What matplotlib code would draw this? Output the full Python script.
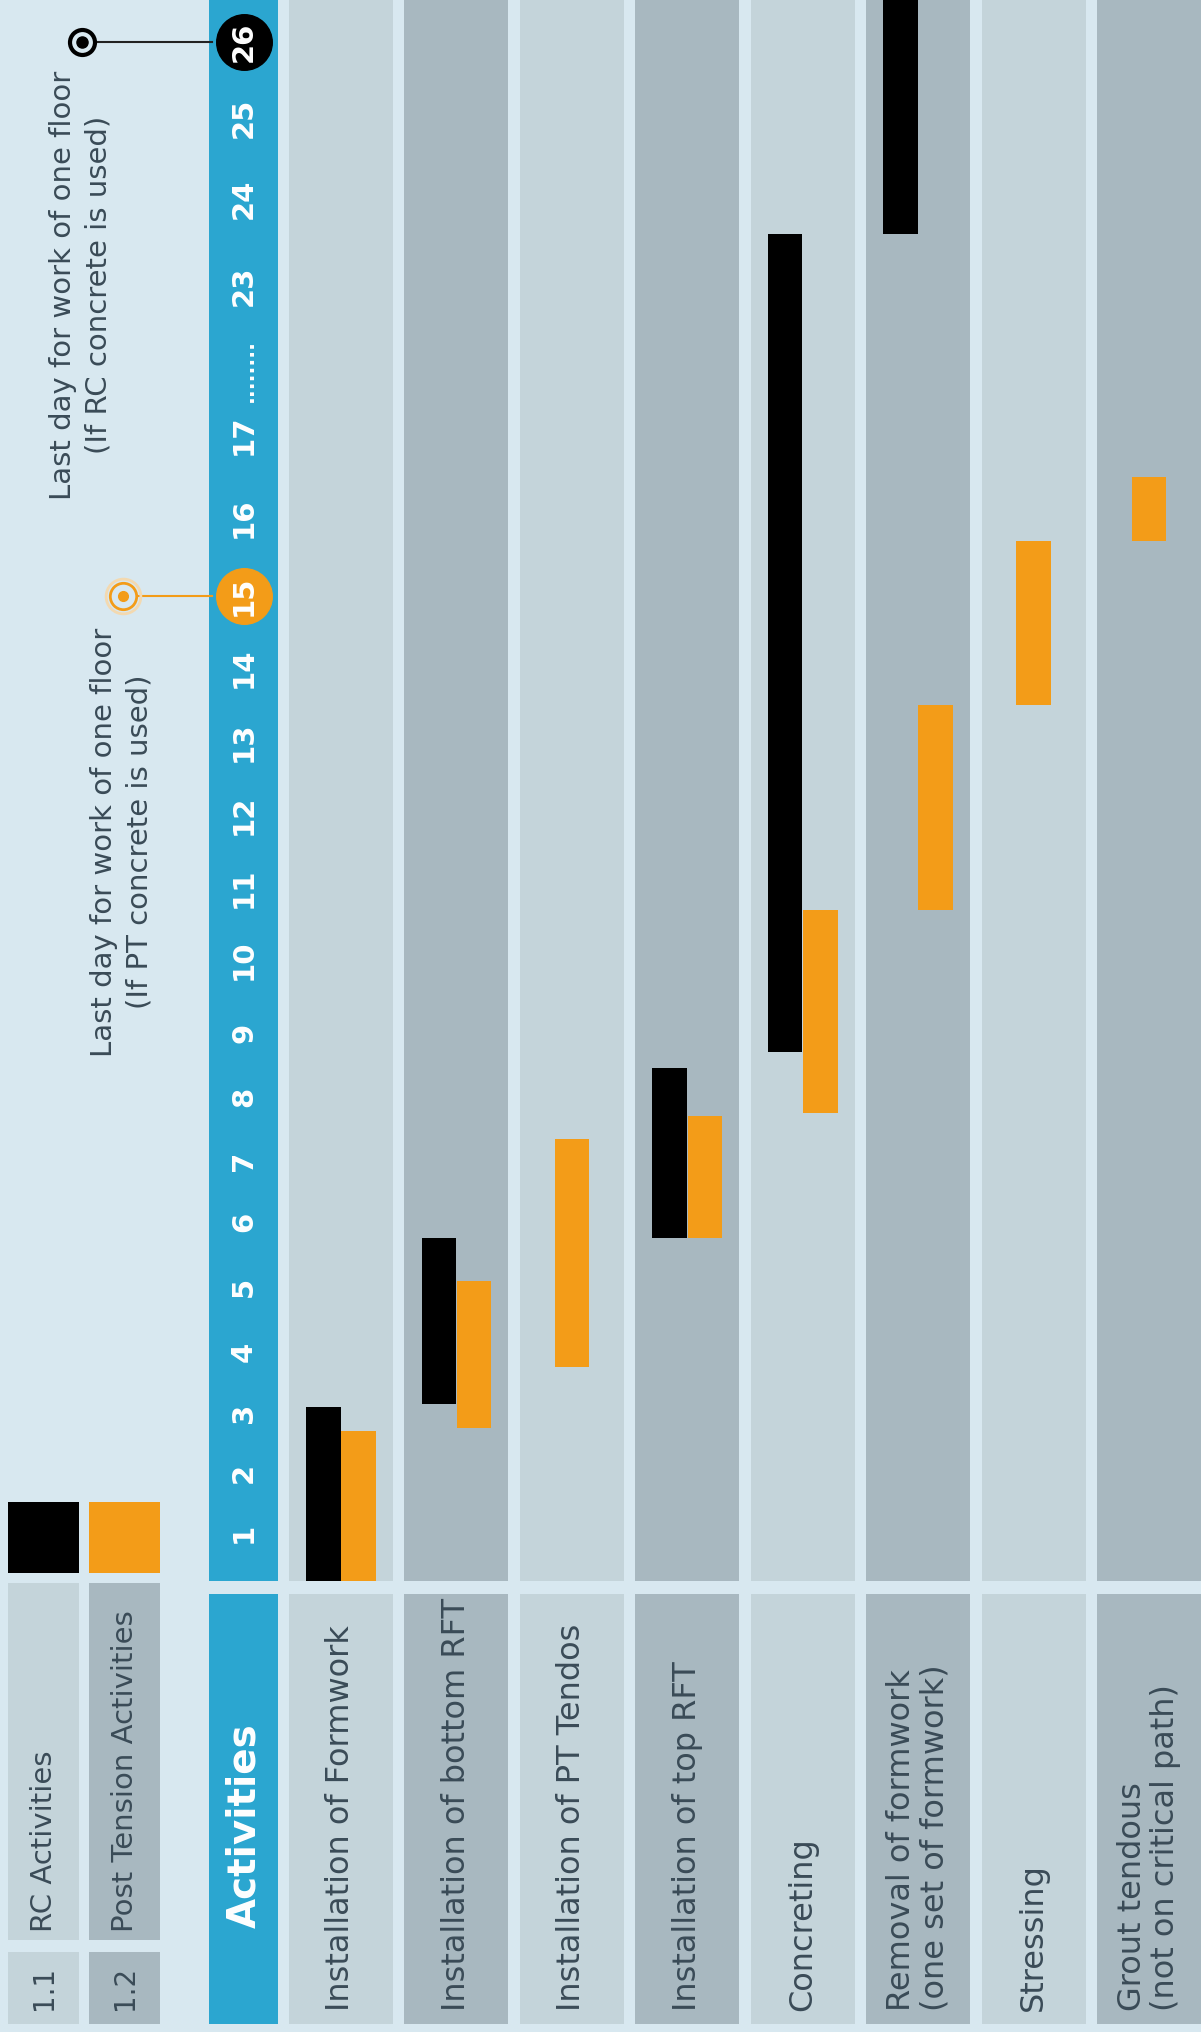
import numpy as np
import matplotlib
matplotlib.use('Agg')
import matplotlib.pyplot as plt
from matplotlib.patches import Rectangle
from matplotlib.transforms import blended_transform_factory

# --- data (days) ---
activities = ['Installation of Formwork', 'Installation of bottom RFT',
              'Installation of PT Tendos', 'Installation of top RFT', 'Concreting',
              'Removal of formwork\n(one set of formwork)', 'Stressing',
              'Grout tendous\n(not on critical path)']
rc_start = [0.2, 3.15, np.nan, 5.75, 8.7, 23.6, np.nan, np.nan]
rc_end = [3.1, 5.75, np.nan, 8.45, 23.6, 27.0, np.nan, np.nan]
pt_start = [0.2, 2.75, 3.75, 5.75, 7.75, 10.7, 13.5, 15.7]
pt_end = [2.7, 5.1, 7.35, 7.7, 10.7, 13.5, 15.7, 16.5]
day_values = list(range(1, 18)) + [23, 24, 25, 26]
day_labels = [str(d) for d in day_values]
pt_last_day = 15
rc_last_day = 26
legend_labels = ['RC Activities', 'Post Tension Activities']
legend_ids = ['1.1', '1.2']

# --- layout ---
W, H = 1201, 2032
knot_days = [0.2] + day_values + [26.55]
knot_px = [1581, 1533, 1473, 1413, 1352, 1287, 1222, 1161, 1097, 1033, 960, 888,
           815, 742, 668, 596, 518, 435, 286, 199, 118, 42, 0]

BG = '#d8e8f0'
ROW_LIGHT = '#c4d4da'
ROW_DARK = '#a8b8c0'
BLUE = '#2ba6d0'
ORANGE = '#f39c18'
TEXT = '#3a4b57'

plt.rcParams['font.family'] = ['DejaVu Sans']


def fwd(d):
    return -np.interp(d, knot_days, knot_px)


def inv(v):
    return np.interp(-np.asarray(v), knot_px[::-1], knot_days[::-1])


fig = plt.figure(figsize=(W / 100, H / 100), dpi=100)
fig.patch.set_facecolor(BG)

# background / layout axes in pixel coords
bg = fig.add_axes([0, 0, 1, 1])
bg.set_xlim(0, W)
bg.set_ylim(H, 0)
bg.axis('off')

bg.add_patch(Rectangle((209, 0), 69, 1581, color=BLUE, lw=0))
bg.add_patch(Rectangle((209, 1594), 69, 430, color=BLUE, lw=0))
bg.text(244, 1928, 'Activities', rotation=90, ha='center', va='bottom',
        color='white', fontsize=28, fontweight='bold')

# legend
for k, (col, cell) in enumerate([('black', ROW_LIGHT), (ORANGE, ROW_DARK)]):
    x0 = 8 + k * 81
    bg.add_patch(Rectangle((x0, 1502), 71, 71, color=col, lw=0))
    bg.add_patch(Rectangle((x0, 1583), 71, 357, color=cell, lw=0))
    bg.add_patch(Rectangle((x0, 1952), 71, 72, color=cell, lw=0))
    bg.text(x0 + 36, 1932, legend_labels[k], rotation=90, ha='center', va='bottom',
            color=TEXT, fontsize=21)
    bg.text(x0 + 36, 1988, legend_ids[k], rotation=90, ha='center', va='center',
            color=TEXT, fontsize=20)

# annotations text
bg.text(81, 285, 'Last day for work of one floor\n(If RC concrete is used)',
        rotation=90, ha='center', va='center', multialignment='center',
        color=TEXT, fontsize=21, linespacing=1.35)
bg.text(122, 842, 'Last day for work of one floor\n(If PT concrete is used)',
        rotation=90, ha='center', va='center', multialignment='center',
        color=TEXT, fontsize=21, linespacing=1.35)

# gantt axes
ax = fig.add_axes([289 / W, (H - 1581) / H, 912 / W, 1581 / H])
ax.set_facecolor('none')
ax.set_yscale('function', functions=(fwd, inv))
ax.set_ylim(0.2, 26.55)
ax.set_xlim(-0.45, 7.45)
ax.axis('off')

for i in range(len(activities)):
    ax.axvspan(i - 0.45, i + 0.45, color=ROW_LIGHT if i % 2 == 0 else ROW_DARK,
               lw=0, zorder=0)
    both = not np.isnan(rc_start[i])
    if both:
        ax.bar(i - 0.152, rc_end[i] - rc_start[i], bottom=rc_start[i], width=0.3,
               color='black', zorder=2)
    ax.bar(i + (0.152 if both else 0), pt_end[i] - pt_start[i], bottom=pt_start[i],
           width=0.3, color=ORANGE, zorder=2)

trans = blended_transform_factory(bg.transData, ax.transData)

# highlighted days
ax.plot([244], [pt_last_day], marker='o', ms=40, color=ORANGE, transform=trans,
        clip_on=False, zorder=4)
ax.plot([244], [rc_last_day], marker='o', ms=40, color='black', transform=trans,
        clip_on=False, zorder=4)

for d, lab in zip(day_values, day_labels):
    ax.text(244, d, lab, transform=trans, rotation=90, ha='center', va='center',
            color='white', fontsize=21, fontweight='bold', zorder=5, clip_on=False)
ax.text(247, 19.6, '........', transform=trans, rotation=90, ha='center',
        va='center', color='white', fontsize=15, fontweight='bold', zorder=5,
        clip_on=False)

# leader lines and target markers
ax.plot([136, 212], [pt_last_day, pt_last_day], color=ORANGE, lw=1.5,
        transform=trans, clip_on=False, zorder=3)
ax.plot([123], [pt_last_day], marker='o', ms=25, mfc='none', mec='#f3d9b0', mew=2,
        transform=trans, clip_on=False, zorder=3)
ax.plot([123], [pt_last_day], marker='o', ms=19, mfc=BG, mec=ORANGE, mew=2,
        transform=trans, clip_on=False, zorder=3)
ax.plot([123], [pt_last_day], marker='o', ms=7, color=ORANGE,
        transform=trans, clip_on=False, zorder=3)

ax.plot([95, 212], [rc_last_day, rc_last_day], color='#222222', lw=1.5,
        transform=trans, clip_on=False, zorder=3)
ax.plot([82], [rc_last_day], marker='o', ms=18, mfc=BG, mec='black', mew=3,
        transform=trans, clip_on=False, zorder=3)
ax.plot([82], [rc_last_day], marker='o', ms=8, color='black',
        transform=trans, clip_on=False, zorder=3)

# activity label cells
lab = fig.add_axes([289 / W, (H - 2024) / H, 912 / W, (2024 - 1594) / H])
lab.set_xlim(-0.45, 7.45)
lab.set_ylim(0, 1)
lab.axis('off')
for i, name in enumerate(activities):
    lab.axvspan(i - 0.45, i + 0.45, color=ROW_LIGHT if i % 2 == 0 else ROW_DARK, lw=0)
    lab.text(i, 0.03, name, rotation=90, ha='center', va='bottom',
             multialignment='left', color=TEXT, fontsize=23, linespacing=1.1)

fig.savefig('out.png', dpi=100, facecolor=BG)
